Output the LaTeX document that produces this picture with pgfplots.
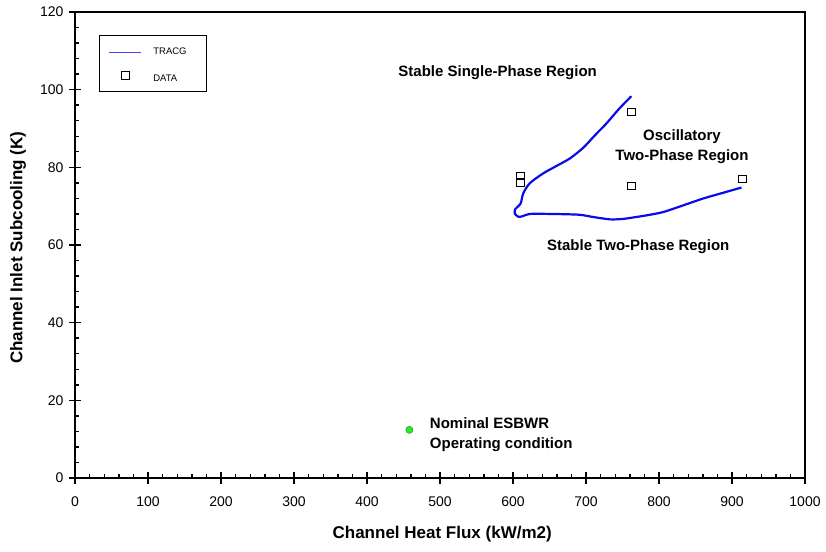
\documentclass[border=0pt]{standalone}
\usepackage{fontspec}
\setmainfont{Liberation Sans}
\usepackage{pgfplots}
\pgfplotsset{compat=1.18}
\definecolor{curveblue}{RGB}{10,10,235}
\definecolor{legblue}{RGB}{70,70,255}
\definecolor{dotgreen}{RGB}{40,235,40}
\begin{document}
\begin{tikzpicture}
\begin{axis}[
  name=ax,
  scale only axis,
  width=730pt, height=466pt,
  xmin=0, xmax=1000, ymin=0, ymax=120,
  xtick={0,100,...,1000}, ytick={0,20,...,120},
  minor x tick num=4, minor y tick num=4,
  xtick pos=left, ytick pos=left,
  tick align=inside,
  major tick length=12pt, minor tick length=4.5pt,
  every tick/.style={black, line width=1.4pt},
  major x tick style={yshift=-6pt},
  major y tick style={xshift=-6pt},
  axis line style={line width=1.6pt},
  /pgf/number format/assume math mode=true,
  /pgf/number format/1000 sep={},
  tick label style={font=\fontsize{14}{16}\selectfont},
  xticklabel style={yshift=-15pt},
  yticklabel style={xshift=-8pt},
  xlabel={\bfseries Channel Heat Flux (kW/m2)},
  ylabel={\bfseries Channel Inlet Subcooling (K)},
  label style={font=\fontsize{17}{19}\selectfont},
  xlabel style={at={(rel axis cs:0.503,-0.120)}, anchor=center},
  ylabel style={at={(rel axis cs:-0.078,0.494)}, anchor=center},
  clip=false,
  legend style={at={(axis description cs:0.0329,0.9506)}, anchor=north west,
    draw=black, line width=0.7pt, inner xsep=9pt, inner ysep=11pt,
    font=\fontsize{9.5}{11}\selectfont, row sep=13pt,
    cells={anchor=west}},
  legend cell align=left,
]
\addplot[curveblue, line width=2.2pt, smooth, tension=0.45,
  legend image code/.code={\draw[legblue, line width=1pt] (2pt,0pt) -- (34pt,0pt);}]
  coordinates {
  (762,98.3) (745,95.0) (728,91.3) (712,88.2) (696,85.0) (678,82.3)
  (660,80.4) (641,78.4) (623,75.9) (614,73.3) (610.5,70.7) (603,69.2)
  (602.5,68.1) (607,67.3) (613,67.4) (623,68.0) (650,68.0) (690,67.8)
  (710,67.2) (733,66.6) (750,66.7) (765,67.1) (785,67.7) (806,68.5)
  (833,70.2) (861,72.0) (887,73.4) (913,74.8)
  };
\addlegendentry{\makebox[52pt][l]{\hspace*{10pt}TRACG}}
\addplot[only marks, mark=square, mark size=3.8pt, mark options={black, line width=0.8pt},
  legend image code/.code={\draw[black, line width=0.8pt] (15pt,-3.8pt) rectangle (22.6pt,3.8pt);}]
  coordinates {
  (610,77.8) (610,76.1) (762,94.3) (762,75.2) (914,77.0)
  };
\addlegendentry{\makebox[52pt][l]{\hspace*{10pt}\raisebox{-6pt}{DATA}}}
\addplot[only marks, mark=*, mark size=3.6pt, mark options={fill=dotgreen, draw=green!50!black, line width=0.3pt}, forget plot]
  coordinates {(458,12.4)};
\draw[line width=2.6pt, line cap=rect] (rel axis cs:0,1) -- (rel axis cs:0,0) -- (rel axis cs:1,0);
\node[font=\fontsize{15}{17}\selectfont\bfseries] at (axis cs:579,104.5) {Stable Single-Phase Region};
\node[font=\fontsize{15}{20}\selectfont\bfseries, align=center] at (axis cs:831.5,85.4) {Oscillatory\\Two-Phase Region};
\node[font=\fontsize{15}{17}\selectfont\bfseries] at (axis cs:771.6,59.7) {Stable Two-Phase Region};
\node[font=\fontsize{15}{20}\selectfont\bfseries, align=left, anchor=west, inner sep=0pt] at (axis cs:486,11.1) {Nominal ESBWR\\Operating condition};
\end{axis}
\pgfresetboundingbox
\path[use as bounding box] ([xshift=-75pt,yshift=-73pt]ax.south west) rectangle ([xshift=21pt,yshift=12pt]ax.north east);
\end{tikzpicture}
\end{document}
